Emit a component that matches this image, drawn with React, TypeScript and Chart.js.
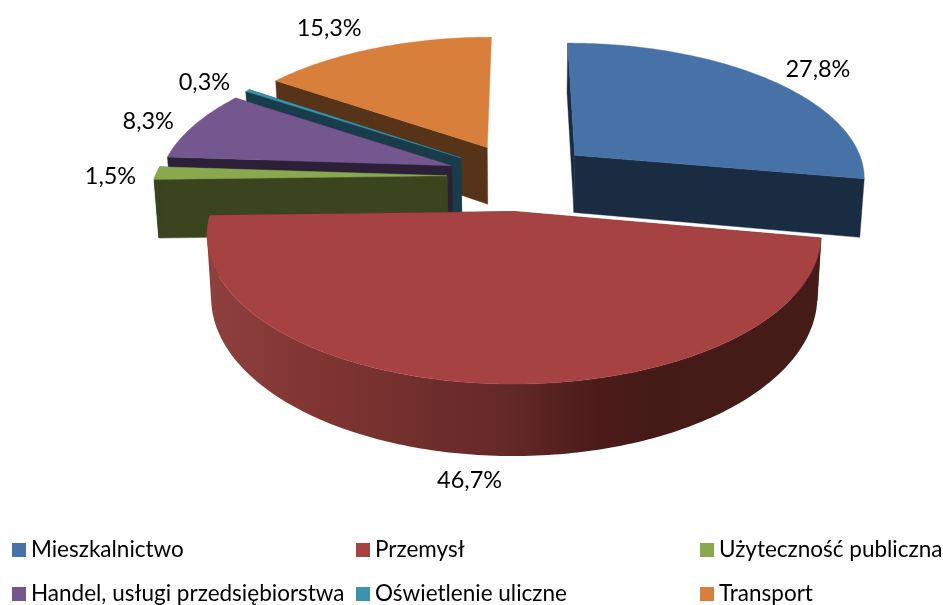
import React, { useEffect, useRef } from "react";
import { Chart, registerables } from "chart.js";

Chart.register(...registerables);

const categories = ["Mieszkalnictwo", "Przemysł", "Użyteczność publiczna", "Handel, usługi przedsiębiorstwa", "Oświetlenie uliczne", "Transport"];
const values = [27.8, 46.7, 1.5, 8.3, 0.3, 15.3];
const topColors = ["#4672a8", "#a64242", "#8aa84e", "#73578e", "#3d93ad", "#d87f3b"];
const wallColors = ["#1a2c42", "#471b18", "#3a441e", "#2c2039", "#193c4a", "#573317"];
const explodes = [0.25, 0.25, 0.25, 0.25, 0.25, 0.25];
const labelNudges: [number, number][] = [[48, -10], [-17, 25], [-46, 3], [-46, -4], [-43, -8], [-46, -20]];
const legendColumns = [12, 356, 700];
const legendRows = [550, 594];
const hasRimWall = [false, true, true, false, false, false];
const hasEndWall = [true, true, true, true, true, false];

const W = 943, H = 605;
const X0 = 520, Y0 = 176.5, SX = 292, SY = 135, K = 0.15, DEPTH = 58.5, SHRINK = 0.987;
const FONT = '22.5px Lato, "Open Sans", sans-serif';
const LABEL_FONT = '23.5px Lato, "Open Sans", sans-serif';

function proj(u: number, v: number, z: number): [number, number] {
  const d = 1 - K * v;
  const sx = 1 - (1 - SHRINK) * z;
  return [X0 + (SX * sx * u) / d, Y0 + (SY * v) / d + (z * DEPTH) / d];
}

function addPoly(ctx: CanvasRenderingContext2D, pts: [number, number][]) {
  pts.forEach((p, i) => (i ? ctx.lineTo(p[0], p[1]) : ctx.moveTo(p[0], p[1])));
  ctx.closePath();
}

function trace(ctx: CanvasRenderingContext2D, pts: [number, number][]) {
  ctx.beginPath();
  addPoly(ctx, pts);
}

function signedArea(pts: [number, number][]) {
  let a = 0;
  pts.forEach((p, i) => {
    const q = pts[(i + 1) % pts.length];
    a += p[0] * q[1] - q[0] * p[1];
  });
  return a;
}

const pie3d = {
  id: "pie3d",
  beforeDatasetsDraw(chart: any) {
    const ctx: CanvasRenderingContext2D = chart.ctx;
    const arcs = chart.getDatasetMeta(0).data;
    const info = arcs.map((arc: any, i: number) => {
      const a0 = arc.startAngle + Math.PI / 2;
      const a1 = arc.endAngle + Math.PI / 2;
      const mid = (a0 + a1) / 2;
      const e = explodes[i];
      return { i, a0, a1, mid, cu: e * Math.sin(mid), cv: -e * Math.cos(mid) };
    });
    const order = [5, 4, 3, 2, 0, 1];
    ctx.save();
    for (const idx of order) {
      const s = info[idx];
      const rim: [number, number][] = [];
      const n = Math.max(4, Math.ceil((s.a1 - s.a0) * 60));
      for (let j = 0; j <= n; j++) {
        const a = s.a0 + ((s.a1 - s.a0) * j) / n;
        rim.push([s.cu + Math.sin(a), s.cv - Math.cos(a)]);
      }
      const at = (p: [number, number], z: number) => proj(p[0], p[1], z);
      const apex: [number, number] = [s.cu, s.cv];
      ctx.fillStyle = wallColors[idx];
      ctx.strokeStyle = wallColors[idx];
      ctx.lineWidth = 0.4;
      trace(ctx, [at(apex, 0), at(rim[0], 0), at(rim[0], 1), at(apex, 1)]);
      ctx.fill(); ctx.stroke();
      if (hasEndWall[idx]) {
        trace(ctx, [at(apex, 0), at(rim[n], 0), at(rim[n], 1), at(apex, 1)]);
        ctx.fill(); ctx.stroke();
      }
      if (hasRimWall[idx]) {
        if (idx === 1) {
          const g = ctx.createLinearGradient(205, 0, 822, 0);
          g.addColorStop(0, "#8e403d");
          g.addColorStop(0.2, "#7f3432");
          g.addColorStop(0.5, "#622827");
          g.addColorStop(0.64, "#4b1a19");
          g.addColorStop(0.72, "#451b17");
          g.addColorStop(1, "#451c18");
          ctx.fillStyle = g;
        }
        // one path of same-wound quads: the non-zero fill is their union, without seams
        ctx.beginPath();
        for (let j = 0; j < n; j++) {
          const quad = [at(rim[j], 0), at(rim[j + 1], 0), at(rim[j + 1], 1), at(rim[j], 1)];
          addPoly(ctx, signedArea(quad) < 0 ? quad.reverse() : quad);
        }
        ctx.fill();
      }
      ctx.fillStyle = topColors[idx];
      ctx.strokeStyle = topColors[idx];
      trace(ctx, [at(apex, 0), ...rim.map((p) => at(p, 0))]);
      ctx.fill(); ctx.stroke();
    }
    // percentage labels
    ctx.font = LABEL_FONT;
    ctx.fillStyle = "#000";
    ctx.textAlign = "center";
    ctx.textBaseline = "middle";
    info.forEach((s: any) => {
      const u = s.cu + Math.sin(s.mid);
      const v = s.cv - Math.cos(s.mid);
      const p = proj(u, v, Math.cos(s.mid) < -0.5 ? 1 : 0);
      const [dx, dy] = labelNudges[s.i];
      ctx.fillText(values[s.i].toFixed(1).replace(".", ",") + "%", p[0] + dx, p[1] + dy);
    });
    // legend
    ctx.font = FONT;
    ctx.textAlign = "left";
    categories.forEach((name, i) => {
      const x = legendColumns[i % 3];
      const y = legendRows[Math.floor(i / 3)];
      ctx.fillStyle = topColors[i];
      ctx.fillRect(x, y - 7, 14, 14);
      ctx.fillStyle = "#000";
      ctx.fillText(name, x + 19, y);
    });
    ctx.restore();
    return false;
  },
};

export default function App() {
  const ref = useRef<HTMLCanvasElement>(null);
  useEffect(() => {
    const chart = new Chart(ref.current!, {
      type: "pie",
      data: { labels: categories, datasets: [{ data: values, backgroundColor: topColors, borderWidth: 0 }] },
      options: {
        responsive: false,
        animation: false,
        rotation: 0,
        plugins: { legend: { display: false }, tooltip: { enabled: false } },
      },
      plugins: [pie3d],
    } as any);
    return () => chart.destroy();
  }, []);
  return (
    <div style={{ position: "fixed", left: 0, top: 0, width: W, height: H, background: "#fff" }}>
      <canvas ref={ref} width={W} height={H} style={{ display: "block" }} />
    </div>
  );
}
